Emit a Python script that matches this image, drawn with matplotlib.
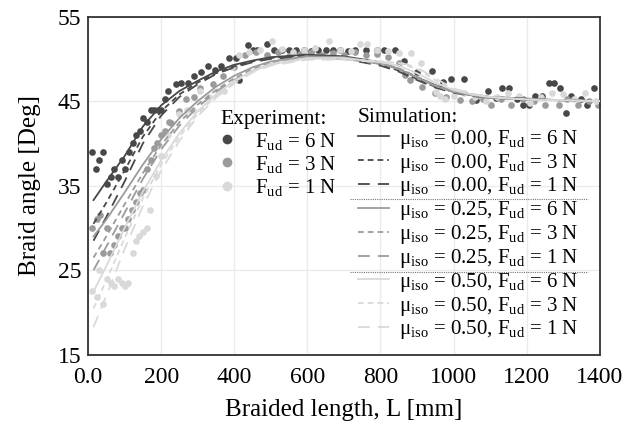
import matplotlib
matplotlib.use("Agg")
import matplotlib.pyplot as plt
from matplotlib.lines import Line2D

plt.rcParams["font.family"] = ["Liberation Serif", "DejaVu Serif"]
plt.rcParams["mathtext.fontset"] = "custom"
plt.rcParams["mathtext.rm"] = "Liberation Serif"
plt.rcParams["mathtext.it"] = "Liberation Serif:italic"

# experiment, F_ud = 6 N
exp6_L = [12, 22, 31, 42, 51, 63, 72, 81, 92, 101,
          112, 123, 130, 141, 150, 161, 171, 180, 191, 200,
          211, 220, 241, 255, 273, 291, 309, 327, 348, 364,
          385, 406, 414, 439, 450, 463, 491, 510, 531, 550,
          570, 590, 610, 630, 650, 670, 690, 710, 730, 760,
          790, 810, 840, 865, 900, 941, 970, 994, 1029, 1062,
          1094, 1115, 1133, 1151, 1175, 1189, 1207, 1224, 1243, 1262,
          1275, 1291, 1307, 1321, 1348, 1366, 1384]
exp6_A = [39.0, 37.0, 38.0, 39.0, 35.2, 36.0, 37.0, 36.0, 38.0, 37.0,
          39.0, 40.0, 41.0, 41.5, 43.0, 42.5, 44.0, 44.0, 44.0, 44.0,
          45.2, 46.2, 47.0, 47.2, 47.2, 48.0, 48.5, 49.1, 48.7, 49.1,
          50.1, 50.1, 47.5, 51.6, 51.1, 51.1, 51.7, 51.1, 51.1, 51.0,
          51.1, 51.1, 50.9, 51.1, 51.1, 51.0, 51.1, 50.9, 51.1, 51.0,
          51.1, 51.1, 51.0, 49.7, 48.4, 48.6, 47.3, 47.6, 47.6, 45.1,
          46.2, 45.4, 46.6, 46.6, 45.3, 44.6, 44.6, 45.6, 45.6, 47.1,
          47.1, 46.6, 43.6, 45.6, 45.2, 44.6, 46.6]

# experiment, F_ud = 3 N
exp3_L = [12, 24, 33, 42, 51, 60, 72, 81, 92, 101,
          108, 119, 130, 141, 150, 160, 171, 180, 189, 200,
          210, 221, 228, 250, 268, 290, 305, 341, 370, 400,
          430, 460, 490, 520, 550, 580, 610, 640, 670, 700,
          730, 760, 790, 820, 850, 867, 881, 914, 949, 980,
          1017, 1050, 1080, 1103, 1130, 1157, 1190, 1220, 1250, 1289,
          1310, 1340, 1370, 1395]
exp3_A = [30.0, 31.1, 31.5, 27.0, 30.0, 27.0, 28.0, 29.0, 30.0, 30.0,
          31.1, 32.1, 33.1, 34.1, 34.5, 37.0, 38.1, 39.5, 40.0, 41.0,
          41.5, 42.5, 42.4, 43.8, 45.2, 45.5, 46.6, 47.0, 48.0, 49.0,
          50.5, 50.8, 50.5, 50.8, 50.3, 50.6, 50.8, 50.4, 50.7, 50.5,
          50.8, 50.4, 50.6, 50.2, 49.5, 48.1, 47.5, 46.7, 46.0, 45.5,
          45.1, 45.0, 45.3, 44.6, 45.3, 44.6, 45.2, 45.0, 44.6, 44.6,
          45.3, 44.6, 45.0, 44.6]

# experiment, F_ud = 1 N
exp1_L = [12, 24, 31, 42, 51, 63, 72, 81, 92, 101,
          110, 122, 131, 140, 150, 161, 170, 187, 200, 220,
          250, 270, 287, 305, 330, 355, 373, 395, 414, 440,
          470, 504, 530, 560, 590, 620, 658, 690, 720, 745,
          763, 790, 820, 850, 885, 910, 953, 962, 976, 1000,
          1030, 1060, 1090, 1120, 1150, 1180, 1210, 1240, 1270, 1300,
          1330, 1360, 1390]
exp1_A = [22.5, 21.9, 25.0, 21.0, 24.0, 23.5, 23.1, 24.0, 23.5, 23.1,
          23.5, 27.0, 28.5, 29.0, 29.5, 30.0, 32.1, 36.1, 38.5, 41.0,
          43.5, 44.0, 44.0, 46.2, 45.5, 46.2, 46.2, 49.0, 50.5, 50.8,
          51.0, 52.1, 51.2, 50.8, 51.0, 51.3, 52.1, 51.0, 50.9, 51.7,
          51.7, 51.0, 50.9, 50.7, 50.7, 49.5, 46.1, 45.6, 45.2, 45.6,
          46.0, 45.5, 45.0, 45.5, 46.0, 45.6, 44.8, 45.5, 46.0, 45.8,
          45.3, 46.0, 45.0]

# simulation results
sim_L = [15, 50, 100, 150, 200, 250, 300, 350, 400, 450, 500, 600,
         700, 800, 850, 900, 950, 1000, 1050, 1100, 1200, 1300, 1400]
sim_mu000_F6 = [33.3, 35.5, 38.5, 42.0, 44.5, 46.2, 47.4, 48.5, 49.3, 49.8, 50.2, 50.5,
                50.3, 49.6, 48.8, 47.8, 46.9, 46.2, 45.8, 45.5, 45.3, 45.1, 45.0]
sim_mu000_F3 = [30.5, 33.0, 36.8, 40.8, 43.8, 45.8, 47.2, 48.3, 49.1, 49.7, 50.1, 50.4,
                50.2, 49.4, 48.6, 47.6, 46.7, 46.1, 45.7, 45.4, 45.2, 45.1, 45.0]
sim_mu000_F1 = [28.5, 31.3, 35.5, 40.0, 43.3, 45.5, 47.0, 48.2, 49.0, 49.6, 50.0, 50.3,
                50.0, 49.2, 48.5, 47.5, 46.6, 46.0, 45.6, 45.4, 45.2, 45.1, 45.0]
sim_mu025_F6 = [29.0, 31.0, 34.2, 37.5, 40.5, 43.0, 45.0, 46.7, 48.0, 49.0, 49.7, 50.3,
                50.2, 49.5, 48.8, 47.8, 46.8, 46.1, 45.7, 45.4, 45.2, 45.1, 45.0]
sim_mu025_F3 = [26.5, 29.0, 32.8, 36.5, 39.8, 42.5, 44.6, 46.3, 47.7, 48.8, 49.5, 50.2,
                50.1, 49.5, 48.9, 47.9, 46.9, 46.1, 45.7, 45.4, 45.2, 45.1, 45.0]
sim_mu025_F1 = [25.0, 27.8, 31.8, 35.8, 39.3, 42.1, 44.3, 46.1, 47.5, 48.6, 49.4, 50.1,
                50.0, 49.4, 48.8, 47.8, 46.8, 46.1, 45.7, 45.4, 45.2, 45.1, 45.0]
sim_mu050_F6 = [22.5, 25.5, 30.0, 34.3, 38.0, 41.2, 43.8, 45.8, 47.4, 48.6, 49.4, 50.1,
                50.1, 49.6, 49.2, 48.3, 47.2, 46.3, 45.8, 45.5, 45.2, 45.1, 45.0]
sim_mu050_F3 = [20.5, 23.8, 28.8, 33.5, 37.5, 40.8, 43.5, 45.6, 47.3, 48.5, 49.3, 50.0,
                50.0, 49.7, 49.5, 48.8, 47.5, 46.4, 45.8, 45.5, 45.2, 45.1, 45.0]
sim_mu050_F1 = [18.3, 22.0, 27.5, 32.6, 36.8, 40.3, 43.2, 45.4, 47.1, 48.4, 49.2, 49.9,
                49.9, 49.6, 49.6, 49.0, 47.7, 46.5, 45.9, 45.5, 45.2, 45.1, 45.0]

x_ticks = [0, 200, 400, 600, 800, 1000, 1200, 1400]
x_ticklabels = ["0.0", "200", "400", "600", "800", "1000", "1200", "1400"]
y_ticks = [15, 25, 35, 45, 55]

dark, mid, light = "#484848", "#9b9b9b", "#d9d9d9"
short_dash = (0, (3.2, 2.2))
long_dash = (0, (6.5, 4.5))

fig = plt.figure(figsize=(6.38, 4.25), dpi=100)
ax = fig.add_axes([0.138, 0.165, 0.802, 0.796])

exp_handles = []
for L, A, c, f in [(exp6_L, exp6_A, dark, 6), (exp3_L, exp3_A, mid, 3), (exp1_L, exp1_A, light, 1)]:
    ax.plot(L, A, "o", color=c, ms=4.8, mec="none", zorder=2)
    exp_handles.append(Line2D([], [], ls="none", marker="o", color=c, ms=7, mec="none",
                              label="F$_\\mathrm{ud}$ = %d N" % f))

sim_handles = []
sims = [(sim_mu000_F6, dark, "-", "0.00", 6), (sim_mu000_F3, dark, short_dash, "0.00", 3),
        (sim_mu000_F1, dark, long_dash, "0.00", 1),
        (sim_mu025_F6, mid, "-", "0.25", 6), (sim_mu025_F3, mid, short_dash, "0.25", 3),
        (sim_mu025_F1, mid, long_dash, "0.25", 1),
        (sim_mu050_F6, light, "-", "0.50", 6), (sim_mu050_F3, light, short_dash, "0.50", 3),
        (sim_mu050_F1, light, long_dash, "0.50", 1)]
for vals, c, ls, mu, f in sims:
    h, = ax.plot(sim_L, vals, color=c, ls=ls, lw=1.3, zorder=3,
                 label="\u03bc$_\\mathrm{iso}$ = %s, F$_\\mathrm{ud}$ = %d N" % (mu, f))
    sim_handles.append(h)

ax.set_xlim(0, 1395)
ax.set_ylim(15, 55)
ax.set_xticks(x_ticks)
ax.set_xticklabels(x_ticklabels)
ax.set_yticks(y_ticks)
ax.tick_params(labelsize=17, length=0)
ax.tick_params(axis="x", pad=9)
ax.tick_params(axis="y", pad=5)
ax.grid(True, color="#ebebeb", lw=1)
ax.set_axisbelow(True)
for s in ax.spines.values():
    s.set_color("#333333")
    s.set_linewidth(1.3)

ax.set_xlabel("Braided length, L [mm]", fontsize=18, labelpad=8)
ax.set_ylabel("Braid angle [Deg]", fontsize=18, labelpad=12)

leg1 = ax.legend(handles=exp_handles, title="Experiment:", loc="upper left",
                 bbox_to_anchor=(0.258, 0.725), frameon=False, fontsize=15,
                 title_fontsize=15.5, handlelength=0.65, handletextpad=1.05,
                 borderpad=0, borderaxespad=0, labelspacing=0.1, alignment="left")
ax.add_artist(leg1)
leg2 = ax.legend(handles=sim_handles, title="Simulation:", loc="upper left",
                 bbox_to_anchor=(0.527, 0.73), frameon=False, fontsize=15,
                 title_fontsize=15.5, handlelength=1.5, handletextpad=0.5,
                 borderpad=0, borderaxespad=0, labelspacing=0.04, alignment="left")

# dotted separators between friction groups
for yy in (0.461, 0.245):
    ax.plot([0.512, 0.977], [yy, yy], transform=ax.transAxes, color="#777777",
            ls=(0, (1, 1)), lw=0.8, zorder=5)

fig.savefig("out.png", dpi=100)
